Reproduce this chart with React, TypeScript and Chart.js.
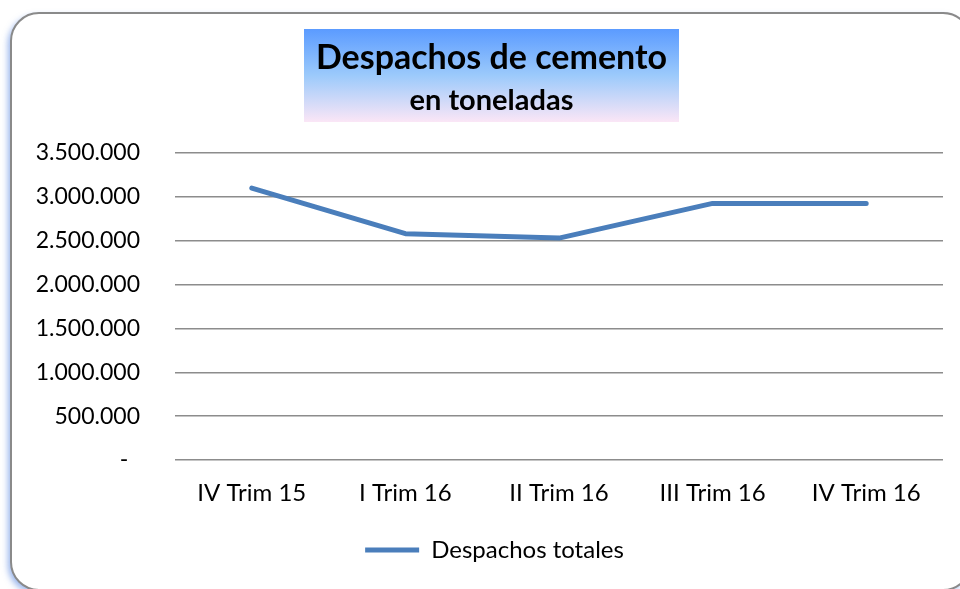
import React, { useEffect, useRef } from "react";
import { Chart, registerables } from "chart.js";

Chart.register(...registerables);

const categories = ["IV Trim 15", "I Trim 16", "II Trim 16", "III Trim 16", "IV Trim 16"];
const despachosTotales = [3100000, 2580000, 2530000, 2925000, 2925000];
const yTickLabels = ["-  ", "500.000", "1.000.000", "1.500.000", "2.000.000", "2.500.000", "3.000.000", "3.500.000"];
const titleText = "Despachos de cemento";
const subtitleText = "en toneladas";
const seriesName = "Despachos totales";

const FONT = "Lato, 'Open Sans', sans-serif";

const framePlugin = {
  id: "frameAndTitle",
  afterLayout(chart: any) {
    if (chart.legend) {
      chart.legend.left = 46;
    }
  },
  beforeDraw(chart: any) {
    const ctx = chart.ctx;
    ctx.save();
    // frame
    const x = 11, y = 13, w = 960, h = 577, r = 28;
    ctx.beginPath();
    ctx.moveTo(x + r, y);
    ctx.lineTo(x + w - r, y);
    ctx.arcTo(x + w, y, x + w, y + r, r);
    ctx.lineTo(x + w, y + h - r);
    ctx.arcTo(x + w, y + h, x + w - r, y + h, r);
    ctx.lineTo(x + r, y + h);
    ctx.arcTo(x, y + h, x, y + h - r, r);
    ctx.lineTo(x, y + r);
    ctx.arcTo(x, y, x + r, y, r);
    ctx.closePath();
    ctx.shadowColor = "rgba(70,120,220,0.55)";
    ctx.shadowBlur = 6;
    ctx.shadowOffsetX = -3;
    ctx.shadowOffsetY = 3;
    ctx.fillStyle = "#ffffff";
    ctx.fill();
    ctx.shadowColor = "transparent";
    ctx.lineWidth = 2;
    ctx.strokeStyle = "#8a8a8a";
    ctx.stroke();

    // title box
    const bx = 304, by = 29, bw = 375, bh = 93;
    const g = ctx.createLinearGradient(0, by, 0, by + bh);
    g.addColorStop(0, "#5b9bff");
    g.addColorStop(0.5, "#9ccafb");
    g.addColorStop(1, "#fbe6f6");
    ctx.fillStyle = g;
    ctx.fillRect(bx, by, bw, bh);

    ctx.fillStyle = "#000000";
    ctx.textAlign = "center";
    ctx.textBaseline = "middle";
    ctx.font = `bold 34px ${FONT}`;
    ctx.fillText(titleText, bx + bw / 2, 58);
    ctx.font = `bold 29px ${FONT}`;
    ctx.fillText(subtitleText, bx + bw / 2, 101);
    ctx.restore();
  },
};

export default function App() {
  const ref = useRef<HTMLCanvasElement | null>(null);

  useEffect(() => {
    document.body.style.margin = "0";
    const canvas = ref.current;
    if (!canvas) return;
    const chart = new Chart(canvas, {
      type: "line",
      data: {
        labels: categories,
        datasets: [
          {
            label: seriesName,
            data: despachosTotales,
            borderColor: "#4a7ebb",
            backgroundColor: "#4a7ebb",
            borderWidth: 5,
            pointRadius: 0,
            pointHoverRadius: 0,
            borderCapStyle: "round",
            borderJoinStyle: "round",
            tension: 0,
            pointStyle: "line",
          },
        ],
      },
      options: {
        responsive: false,
        animation: false,
        layout: { padding: { top: 153, right: 17, bottom: 17, left: 0 } },
        plugins: {
          legend: {
            position: "bottom",
            labels: {
              usePointStyle: true,
              pointStyle: "line",
              pointStyleWidth: 54,
              boxHeight: 24,
              padding: 8,
              color: "#000000",
              font: { family: FONT, size: 24 },
            },
          },
          tooltip: { enabled: false },
          title: { display: false },
        },
        scales: {
          x: {
            offset: true,
            grid: { display: false, drawTicks: false },
            border: { display: false },
            ticks: { color: "#000000", font: { family: FONT, size: 24 }, padding: 19, maxRotation: 0 },
            afterFit(scale: any) {
              scale.height = 70;
            },
          },
          y: {
            min: 0,
            max: 3500000,
            grid: { color: "#8c8c8c", lineWidth: 1.5, drawTicks: false },
            border: { display: false },
            ticks: {
              stepSize: 500000,
              color: "#000000",
              font: { family: FONT, size: 23 },
              padding: 35,
              callback: (_v: any, i: number) => yTickLabels[i],
            },
            afterFit(scale: any) {
              scale.width = 175;
            },
          },
        },
      },
      plugins: [framePlugin],
    });
    return () => chart.destroy();
  }, []);

  return (
    <div style={{ position: "fixed", left: 0, top: 0, width: 960, height: 589 }}>
      <canvas ref={ref} width={960} height={589} style={{ display: "block" }} />
    </div>
  );
}
